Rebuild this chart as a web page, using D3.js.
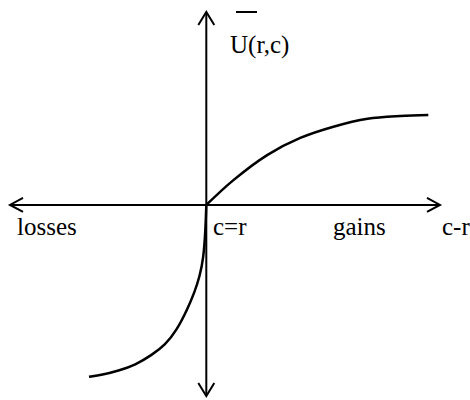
<!DOCTYPE html>
<html><head><meta charset="utf-8">
<script src="https://cdn.jsdelivr.net/npm/d3@7"></script>
<style>html,body{margin:0;padding:0;background:#fff;}svg{display:block;}
text{font-family:"Liberation Serif","Times New Roman","DejaVu Serif",serif;}</style>
</head><body>
<svg id="c" width="470" height="400"></svg>
<script>
// gains branch (c - r >= 0), value U
const gainsX = [0, 0.58, 1.31, 2.01, 2.72, 3.45, 4.15, 4.75];
const gainsU = [0, 0.53, 1.07, 1.43, 1.67, 1.84, 1.90, 1.92];
// losses branch (c - r <= 0)
const lossX = [0, -0.02, -0.06, -0.14, -0.25, -0.41, -0.63, -0.88, -1.16, -1.52, -1.88, -2.23, -2.51];
const lossU = [0, -0.58, -1.13, -1.52, -1.86, -2.24, -2.67, -2.99, -3.20, -3.42, -3.54, -3.63, -3.67];
const axisLabels = ["losses", "c=r", "gains", "c-r"];
const yLabel = "U(r,c)";

const svg = d3.select("#c");
const x = d3.scaleLinear().domain([-4.2, 5]).range([10, 440]);
const y = d3.scaleLinear().domain([-4.08, 4.12]).range([396, 12]);
const x0 = x(0), y0 = y(0);

const g = svg.append("g").attr("stroke", "#000").attr("fill", "none").attr("stroke-width", 2);
// axes
g.append("line").attr("x1", x.range()[0]).attr("x2", x.range()[1]).attr("y1", y0).attr("y2", y0);
g.append("line").attr("x1", x0).attr("x2", x0).attr("y1", y.range()[1]).attr("y2", y.range()[0]);
// arrowheads
const ah = (tx, ty, ax, ay, bx, by) =>
  g.append("path").attr("d", `M${tx+ax},${ty+ay}L${tx},${ty}L${tx+bx},${ty+by}`).attr("stroke-linejoin", "miter");
ah(x.range()[0], y0, 13, -7, 13, 7);
ah(x.range()[1], y0, -13, -7, -13, 7);
ah(x0, y.range()[1], -8, 13, 8, 13);
ah(x0, y.range()[0], -8, -13, 8, -13);

const line = d3.line().x(d => x(d[0])).y(d => y(d[1])).curve(d3.curveCatmullRom.alpha(0.5));
const lineB = d3.line().x(d => x(d[0])).y(d => y(d[1])).curve(d3.curveBasis);
g.append("path").attr("d", line(gainsX.map((v, i) => [v, gainsU[i]]))).attr("stroke-width", 2.5);
g.append("path").attr("d", lineB(lossX.map((v, i) => [v, lossU[i]]))).attr("stroke-width", 2.5);

const t = svg.append("g").attr("font-size", 25).attr("fill", "#000");
const lx = [17, 213, 333, 442];
axisLabels.forEach((s, i) => t.append("text").attr("x", lx[i]).attr("y", 235).text(s));
t.append("text").attr("x", 230).attr("y", 53).text(yLabel);
svg.append("line").attr("x1", 236).attr("x2", 257).attr("y1", 12).attr("y2", 12).attr("stroke", "#000").attr("stroke-width", 2);
</script>
</body></html>
